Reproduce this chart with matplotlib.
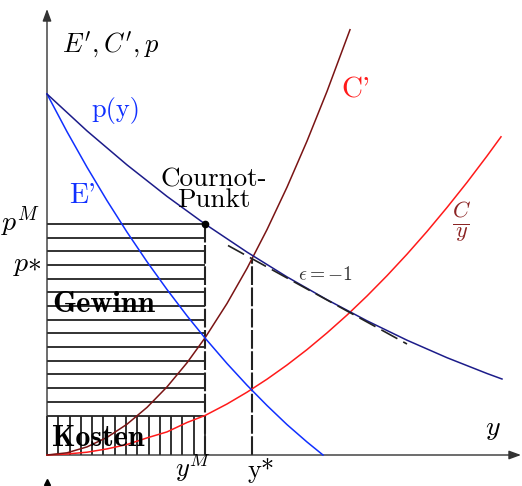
import numpy as np
import matplotlib.pyplot as plt

plt.rcParams['mathtext.fontset'] = 'cm'

# Values; origin of the diagram at (0, 0), units ~ pixels
price_x = [0, 40, 80, 120, 158, 200, 240, 280, 320, 360, 400, 440, 455]
price_y = [361.0, 324.1, 290.1, 258.6, 231.0, 202.9, 178.1, 155.3, 134.2, 114.8, 97.3, 81.5, 76.0]

revenue_x = [0, 20, 40, 60, 80, 100, 120, 140, 158, 180, 200, 220, 240, 260, 276]
revenue_y = [361.0, 323.3, 287.8, 254.4, 222.9, 193.3, 165.5, 139.2, 117.0, 91.5, 69.8, 49.5, 30.4, 13.0, 0.0]

mc_x = [0, 20, 40, 60, 80, 100, 120, 140, 158, 180, 200, 220, 240, 260, 280, 303]
mc_y = [0.0, 2.2, 8.1, 17.6, 30.8, 47.6, 68.1, 92.2, 117.1, 151.5, 186.6, 225.4, 267.8, 313.9, 363.6, 425.3]

ac_x = [0, 20, 40, 60, 80, 100, 120, 140, 158, 180, 200, 220, 240, 260, 280, 300,
        320, 340, 360, 380, 400, 420, 440, 454]
ac_y = [0.0, 1.0, 2.8, 6.1, 10.5, 17.1, 23.1, 32.5, 39.5, 51.0, 62.8, 75.8, 90.0, 105.4,
        122.1, 139.9, 159.0, 179.3, 200.8, 223.5, 247.5, 272.6, 299.0, 318.2]

y_M, p_M = 158, 231
y_star, p_star = 205, 196
cost_level = 39.5
tangent_x = [181, 360]
tangent_y = [209.5, 111.0]

axis_col = '#333333'
navy = '#1c1c8a'
blue = '#1030ff'
maroon = '#7a1414'
red = '#ff1a1a'

fig = plt.figure(figsize=(5.22, 4.86), dpi=100)
ax = fig.add_axes([0, 0, 1, 1])
ax.set_xlim(-47, 475)
ax.set_ylim(-31, 455)
ax.axis('off')

# axes with arrows
ax.annotate('', xy=(474, 0), xytext=(0, 0),
            arrowprops=dict(arrowstyle='-|>,head_length=0.6,head_width=0.22',
                            mutation_scale=12, lw=1.0, color=axis_col, shrinkA=0, shrinkB=0))
ax.annotate('', xy=(0, 446), xytext=(0, 0),
            arrowprops=dict(arrowstyle='-|>,head_length=0.6,head_width=0.22',
                            mutation_scale=12, lw=1.0, color=axis_col, shrinkA=0, shrinkB=0))
ax.plot([0], [-27], marker='^', ms=5, color='black', clip_on=False)

# hatched areas: profit (horizontal) and costs (vertical)
ax.hlines(np.linspace(cost_level, p_M, 15), 0, y_M, color='#222222', lw=1.3, zorder=2)
ax.vlines(np.linspace(0, y_M, 15), 0, cost_level, color='#222222', lw=1.3, zorder=2)

# y^M and y* guides
ax.vlines(y_M, 0, p_M, color='#222222', lw=1.5, linestyles=(0, (9, 1.2)), zorder=2)
ax.vlines(y_star, 0, p_star, color='#222222', lw=1.5, linestyles=(0, (9, 1.2)), zorder=2)

# curves
ax.plot(ac_x, ac_y, color=red, lw=1.1, zorder=3)
ax.plot(mc_x, mc_y, color=maroon, lw=1.1, zorder=3)
ax.plot(revenue_x, revenue_y, color=blue, lw=1.1, zorder=3)
ax.plot(price_x, price_y, color=navy, lw=1.1, zorder=3)
ax.plot(tangent_x, tangent_y, color='#222222', lw=1.2, ls=(0, (11, 4)), zorder=4)

# Cournot point
ax.plot([y_M], [p_M], 'o', color='black', ms=4.5, zorder=5)

# labels
ax.text(15, 410, r"$E',C',p$", fontsize=19, ha='left', va='center')
ax.text(69, 345, 'p(y)', fontfamily='cmr10', fontsize=19, color=blue, ha='center', va='center')
ax.text(35, 259, "E'", fontfamily='cmr10', fontsize=20, color=blue, ha='center', va='center')
ax.text(167, 265, 'Cournot-\nPunkt', fontfamily='cmr10', fontsize=19.5, ha='center', va='center',
        multialignment='center', linespacing=0.8)
ax.text(-7, 233, r'$p^M$', fontsize=20, ha='right', va='center')
ax.text(-5, 191, r'$p{*}$', fontsize=20, ha='right', va='center')
ax.text(5, 150, 'Gewinn', fontfamily='cmb10', fontsize=22, ha='left', va='center')
ax.text(5, 17, 'Kosten', fontfamily='cmb10', fontsize=21.5, ha='left', va='center')
ax.text(146, -29, r'$y^M$', fontsize=19, ha='center', va='bottom')
ax.text(200, -3, 'y*', fontfamily='cmr10', fontsize=19, ha='left', va='top')
ax.text(446, 27, r'$y$', fontsize=20, ha='center', va='center')
ax.text(279, 180, r'$\epsilon=-1$', fontsize=14, color='#333333', ha='center', va='center')
ax.text(309, 365, "C'", fontfamily='cmr10', fontsize=21, color=red, ha='center', va='center')
ax.text(415, 233, r'$\frac{C}{y}$', fontsize=23, color='#8b2323', ha='center', va='center')

fig.savefig('out.png', dpi=100)
